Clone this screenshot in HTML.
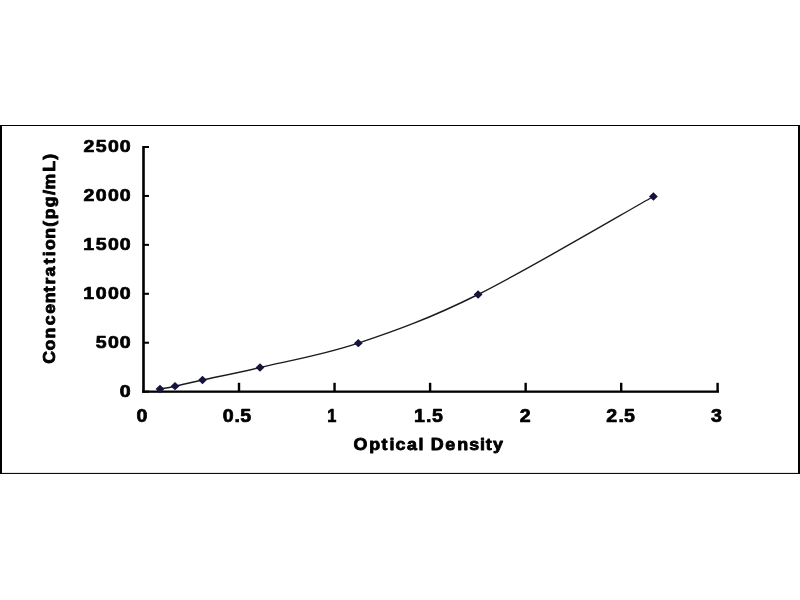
<!DOCTYPE html>
<html lang="en"><head><meta charset="utf-8"><title>Standard curve</title>
<style>html,body{margin:0;padding:0;background:#fff;}body{width:800px;height:600px;overflow:hidden;}svg{display:block;will-change:transform;}text{font-family:"Liberation Sans",Arial,Helvetica,sans-serif;font-weight:bold;stroke:#000;stroke-width:0.5px;stroke-linejoin:round;}</style></head><body>
<svg width="800" height="600" viewBox="0 0 800 600">
<rect x="0" y="0" width="800" height="600" fill="#fff"/>
<g fill="#000">
<rect x="0" y="125" width="800" height="1"/>
<rect x="0" y="472.9" width="800" height="1.05"/>
<rect x="0" y="125" width="2" height="349"/>
<rect x="798" y="125" width="2" height="349"/>
</g>
<g fill="#000">
<rect x="142.2" y="146" width="2.6" height="246.80"/>
<rect x="142.2" y="390.5" width="576.80" height="2.3"/>
<rect x="144" y="146.00" width="5" height="2"/>
<rect x="144" y="194.93" width="5" height="2"/>
<rect x="144" y="243.86" width="5" height="2"/>
<rect x="144" y="292.79" width="5" height="2"/>
<rect x="144" y="341.72" width="5" height="2"/>
<rect x="144" y="390.65" width="5" height="2"/>
<rect x="237.80" y="382.8" width="2.4" height="9"/>
<rect x="333.35" y="382.8" width="2.4" height="9"/>
<rect x="428.90" y="382.8" width="2.4" height="9"/>
<rect x="524.45" y="382.8" width="2.4" height="9"/>
<rect x="620.00" y="382.8" width="2.4" height="9"/>
<rect x="716.40" y="382.8" width="2.4" height="9"/>
</g>
<path d="M160.00,389.00 C162.50,388.53 167.92,387.70 175.00,386.20 C182.08,384.70 188.33,383.12 202.50,380.00 C216.67,376.88 234.03,373.63 260.00,367.50 C285.97,361.37 321.95,355.37 358.30,343.20 C394.65,331.03 428.92,318.95 478.10,294.50 C527.28,270.05 624.18,212.83 653.40,196.50" fill="none" stroke="#1a1a22" stroke-width="1.4"/>
<path d="M155.60,389.00 L160.00,384.85 L164.40,389.00 L160.00,393.15Z" fill="#14143c"/>
<path d="M170.60,386.20 L175.00,382.05 L179.40,386.20 L175.00,390.35Z" fill="#14143c"/>
<path d="M198.10,380.00 L202.50,375.85 L206.90,380.00 L202.50,384.15Z" fill="#14143c"/>
<path d="M255.60,367.50 L260.00,363.35 L264.40,367.50 L260.00,371.65Z" fill="#14143c"/>
<path d="M353.90,343.20 L358.30,339.05 L362.70,343.20 L358.30,347.35Z" fill="#14143c"/>
<path d="M473.70,294.50 L478.10,290.35 L482.50,294.50 L478.10,298.65Z" fill="#14143c"/>
<path d="M649.00,196.50 L653.40,192.35 L657.80,196.50 L653.40,200.65Z" fill="#14143c"/>
<text transform="translate(0,152.00) scale(1.1500,1.0000)" x="72.71 83.16 93.89 104.24" y="0" font-size="17.0" fill="#000" style="stroke-width:0.7px">2500</text>
<text transform="translate(0,200.93) scale(1.1500,1.0000)" x="72.71 83.20 93.89 104.24" y="0" font-size="17.0" fill="#000" style="stroke-width:0.7px">2000</text>
<text transform="translate(0,249.86) scale(1.1500,1.0000)" x="72.37 83.16 93.89 104.24" y="0" font-size="17.0" fill="#000" style="stroke-width:0.7px">1500</text>
<text transform="translate(0,298.79) scale(1.1500,1.0000)" x="72.37 83.20 93.89 104.24" y="0" font-size="17.0" fill="#000" style="stroke-width:0.7px">1000</text>
<text transform="translate(0,347.72) scale(1.1500,1.0000)" x="83.16 93.89 104.24" y="0" font-size="17.0" fill="#000" style="stroke-width:0.7px">500</text>
<text transform="translate(0,396.65) scale(1.1500,1.0000)" x="104.24" y="0" font-size="17.0" fill="#000" style="stroke-width:0.7px">0</text>
<text transform="translate(0,421.70) scale(1.1000,1.0000)" x="124.02" y="0" font-size="17.8" fill="#000" style="stroke-width:0.7px">0</text>
<text transform="translate(0,421.70) scale(1.1000,1.0000)" x="202.56 213.17 218.48" y="0" font-size="17.8" fill="#000" style="stroke-width:0.7px">0.5</text>
<text transform="translate(0,421.70) scale(0.9200,1.0000)" x="355.61" y="0" font-size="17.8" fill="#000" style="stroke-width:0.7px">1</text>
<text transform="translate(0,421.70) scale(1.1000,1.0000)" x="376.46 387.31 392.75" y="0" font-size="17.8" fill="#000" style="stroke-width:0.7px">1.5</text>
<text transform="translate(0,421.70) scale(1.1000,1.0000)" x="472.46" y="0" font-size="17.8" fill="#000" style="stroke-width:0.7px">2</text>
<text transform="translate(0,421.70) scale(1.1000,1.0000)" x="551.19 562.31 567.30" y="0" font-size="17.8" fill="#000" style="stroke-width:0.7px">2.5</text>
<text transform="translate(0,421.70) scale(1.1000,1.0000)" x="646.30" y="0" font-size="17.8" fill="#000" style="stroke-width:0.7px">3</text>
<text transform="translate(0,450.30) scale(1.0400,1.0000)" x="339.95 354.97 366.85 374.54 380.23 391.35 402.52 407.30 414.25 428.16 439.57 451.13 461.56 467.09 474.04" y="0" font-size="17.2" fill="#000" style="stroke-width:0.85px">Optical Density</text>
<text transform="translate(55.0,0) rotate(-90) scale(1.03,1.0)" x="-353.12 -340.20 -328.59 -315.84 -304.53 -294.32 -283.64 -276.11 -268.49 -256.55 -248.69 -242.83 -231.69 -220.27 -212.94 -201.34 -189.28 -184.09 -166.73 -155.16" y="0" font-size="17.2" fill="#000" style="stroke-width:0.85px">Concentration(pg/mL)</text>
</svg>
</body></html>
